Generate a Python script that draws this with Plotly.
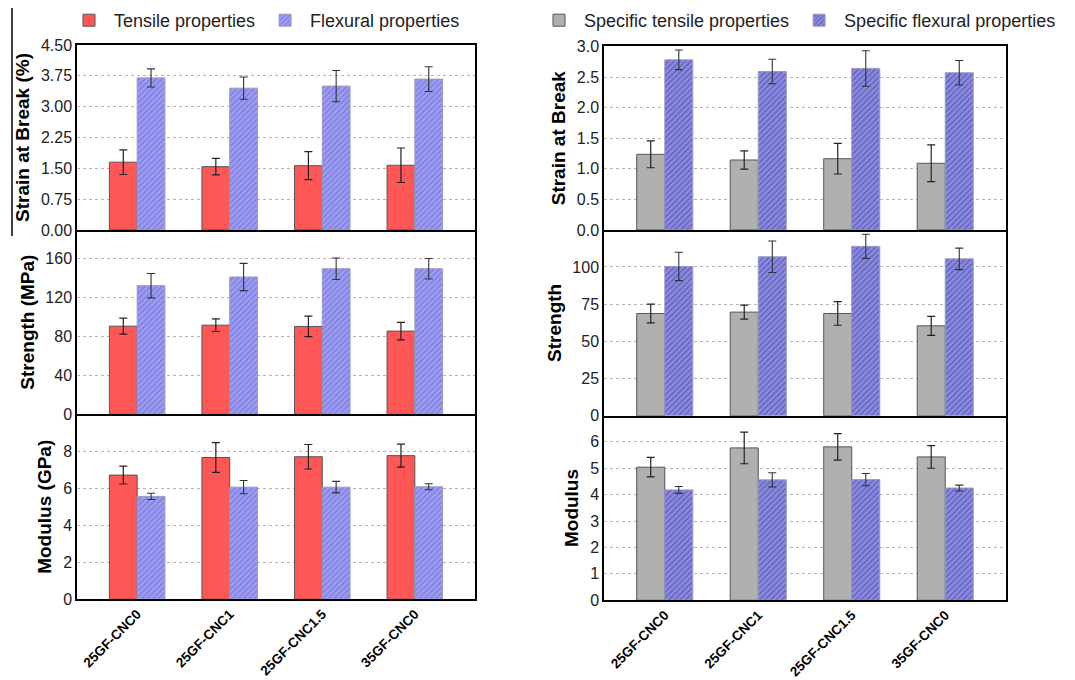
import plotly.graph_objects as go

# Sample groups
samples = ["25GF-CNC0", "25GF-CNC1", "25GF-CNC1.5", "35GF-CNC0"]

# Absolute properties (mean and standard deviation)
tensile_strain = [1.65, 1.54, 1.565, 1.575]
tensile_strain_sd = [0.30, 0.20, 0.34, 0.42]
flexural_strain = [3.70, 3.45, 3.50, 3.67]
flexural_strain_sd = [0.22, 0.27, 0.38, 0.30]

tensile_strength = [90.4, 91.4, 90.1, 85.3]
tensile_strength_sd = [8.2, 6.5, 10.5, 9.0]
flexural_strength = [131.9, 140.8, 149.3, 149.3]
flexural_strength_sd = [12.5, 14.0, 11.0, 10.5]

tensile_modulus = [6.70, 7.65, 7.69, 7.75]
tensile_modulus_sd = [0.48, 0.80, 0.66, 0.62]
flexural_modulus = [5.55, 6.05, 6.05, 6.07]
flexural_modulus_sd = [0.17, 0.36, 0.31, 0.16]

# Specific (density-normalised) properties
sp_tensile_strain = [1.237, 1.144, 1.165, 1.09]
sp_tensile_strain_sd = [0.22, 0.15, 0.25, 0.30]
sp_flexural_strain = [2.78, 2.59, 2.64, 2.57]
sp_flexural_strain_sd = [0.16, 0.20, 0.29, 0.20]

sp_tensile_strength = [68.7, 69.6, 68.7, 60.4]
sp_tensile_strength_sd = [6.3, 4.7, 7.9, 6.4]
sp_flexural_strength = [100.3, 106.8, 113.8, 105.4]
sp_flexural_strength_sd = [9.5, 10.6, 8.1, 7.2]

sp_tensile_modulus = [5.04, 5.77, 5.81, 5.43]
sp_tensile_modulus_sd = [0.37, 0.60, 0.50, 0.43]
sp_flexural_modulus = [4.18, 4.56, 4.57, 4.25]
sp_flexural_modulus_sd = [0.13, 0.27, 0.23, 0.11]

FONT = "Liberation Sans, Arial, sans-serif"
W, H = 1075, 680

RED = "#ff5656"
GREY = "#b0b0b0"
BLUE_L_BG = "#9c9cf2"
BLUE_L_FG = "#5858c4"
BLUE_R_BG = "#8a8ae0"
BLUE_R_FG = "#30308e"

fig = go.Figure()


def add_pair(ax, a_vals, a_sd, b_vals, b_sd, a_name, b_name, a_color,
             b_bg, b_fg, legend, show):
    xa = "x" if ax == 1 else f"x{ax}"
    ya = "y" if ax == 1 else f"y{ax}"
    fig.add_trace(go.Bar(
        x=samples, y=a_vals, name=a_name, xaxis=xa, yaxis=ya,
        marker=dict(color=a_color, line=dict(color="#555555", width=1)),
        error_y=dict(type="data", array=a_sd, color="#222222",
                     thickness=1.2, width=4),
        legend=legend, showlegend=show, offsetgroup="a",
    ))
    fig.add_trace(go.Bar(
        x=samples, y=b_vals, name=b_name, xaxis=xa, yaxis=ya,
        marker=dict(color=b_bg, line=dict(color="#9a9ac0", width=1),
                    pattern=dict(shape="/", fgcolor=b_fg, bgcolor=b_bg,
                                 size=4, solidity=0.3)),
        error_y=dict(type="data", array=b_sd, color="#333333",
                     thickness=1.1, width=4),
        legend=legend, showlegend=show, offsetgroup="b",
    ))


L, R = "legend", "legend2"
add_pair(1, tensile_strain, tensile_strain_sd, flexural_strain, flexural_strain_sd,
         "Tensile properties", "Flexural properties", RED, BLUE_L_BG, BLUE_L_FG, L, True)
add_pair(2, tensile_strength, tensile_strength_sd, flexural_strength, flexural_strength_sd,
         "Tensile properties", "Flexural properties", RED, BLUE_L_BG, BLUE_L_FG, L, False)
add_pair(3, tensile_modulus, tensile_modulus_sd, flexural_modulus, flexural_modulus_sd,
         "Tensile properties", "Flexural properties", RED, BLUE_L_BG, BLUE_L_FG, L, False)
add_pair(4, sp_tensile_strain, sp_tensile_strain_sd, sp_flexural_strain, sp_flexural_strain_sd,
         "Specific tensile properties", "Specific flexural properties", GREY, BLUE_R_BG, BLUE_R_FG, R, True)
add_pair(5, sp_tensile_strength, sp_tensile_strength_sd, sp_flexural_strength, sp_flexural_strength_sd,
         "Specific tensile properties", "Specific flexural properties", GREY, BLUE_R_BG, BLUE_R_FG, R, False)
add_pair(6, sp_tensile_modulus, sp_tensile_modulus_sd, sp_flexural_modulus, sp_flexural_modulus_sd,
         "Specific tensile properties", "Specific flexural properties", GREY, BLUE_R_BG, BLUE_R_FG, R, False)


def px_x(p):
    return p / W


def px_y(p):
    return 1 - p / H


# panel geometry (pixel edges of each plotting area)
left_x = [px_x(77), px_x(475)]
right_x = [px_x(604), px_x(1006)]
left_rows = [(45, 230), (230, 414.3), (414.3, 599.3)]
right_rows = [(46.4, 230), (230, 415.7), (415.7, 600.3)]

# axis ranges stop just short of the next panel's ticks so shared edges stay unlabelled
y_specs = {
    1: dict(title="Strain at Break (%)", range=[0, 4.5], dtick=0.75, fmt=".2f"),
    2: dict(title="Strength (MPa)", range=[0, 189], dtick=40, fmt="d"),
    3: dict(title="Modulus (GPa)", range=[0, 9.98], dtick=2, fmt="d"),
    4: dict(title="Strain at Break", range=[0, 3.0], dtick=0.5, fmt=".1f"),
    5: dict(title="Strength", range=[0, 124.8], dtick=25, fmt="d"),
    6: dict(title="Modulus", range=[0, 6.99], dtick=1, fmt="d"),
}

layout = {}
extra = 7
for i in range(1, 7):
    col_x = left_x if i <= 3 else right_x
    rows = left_rows if i <= 3 else right_rows
    top, bot = rows[(i - 1) % 3]
    top_row = (i % 3 == 1)
    bottom_row = (i % 3 == 0)
    xk = "xaxis" if i == 1 else f"xaxis{i}"
    yk = "yaxis" if i == 1 else f"yaxis{i}"
    ya = "y" if i == 1 else f"y{i}"
    xa = "x" if i == 1 else f"x{i}"
    ydom = [px_y(bot), px_y(top)]
    layout[xk] = dict(
        domain=col_x, anchor=ya, type="category", range=[-0.65, 3.65],
        showline=True, linecolor="black", linewidth=1.5, mirror=top_row,
        ticks="", showgrid=False, zeroline=False, automargin=False,
        showticklabels=bottom_row, tickangle=-45, ticklabelstandoff=0,
        tickfont=dict(family=FONT, size=13.5, color="black", weight="bold"),
    )
    s = y_specs[i]
    layout[yk] = dict(
        domain=ydom, anchor=xa, range=s["range"],
        tickmode="linear", tick0=0, dtick=s["dtick"], tickformat=s["fmt"],
        showline=True, linecolor="black", linewidth=1.5, mirror=True,
        ticks="",
        showgrid=True, gridcolor="#b4b4b4", griddash="dot", gridwidth=1,
        zeroline=False, automargin=False,
        tickfont=dict(family=FONT, size=16, color="#222222"),
        title=dict(text=s["title"], standoff=6,
                   font=dict(family=FONT, size=19, color="black", weight="bold")),
    )
    # tick-only axes on both frame edges, ticks facing into the panel
    for side, pos in (("right", col_x[0]), ("left", col_x[1])):
        layout[f"yaxis{extra}"] = dict(
            overlaying=ya, anchor="free", position=pos, side=side,
            domain=ydom, range=s["range"], tickmode="linear", tick0=0,
            dtick=s["dtick"], showticklabels=False, showline=False,
            showgrid=False, zeroline=False, automargin=False,
            ticks="outside", ticklen=7, tickwidth=1.5, tickcolor="black",
            minor=dict(ticks="outside", ticklen=4, tickwidth=1.2,
                       tickcolor="black", dtick=s["dtick"] / 5, showgrid=False),
        )
        extra += 1

fig.update_layout(**layout)

fig.update_layout(
    width=W, height=H,
    margin=dict(l=0, r=0, t=0, b=0, autoexpand=False),
    paper_bgcolor="white", plot_bgcolor="white",
    barmode="group", bargap=0.4, bargroupgap=0.0,
    font=dict(family=FONT, color="black"),
    legend=dict(orientation="h", x=px_x(64), y=px_y(2), xanchor="left", yanchor="top",
                font=dict(family=FONT, size=18, color="#222222"),
                itemwidth=40, bgcolor="rgba(0,0,0,0)", traceorder="normal"),
    legend2=dict(orientation="h", x=px_x(534), y=px_y(2), xanchor="left", yanchor="top",
                 font=dict(family=FONT, size=18, color="#222222"),
                 itemwidth=40, bgcolor="rgba(0,0,0,0)", traceorder="normal"),
    shapes=[dict(type="line", xref="paper", yref="paper",
                 x0=px_x(12), x1=px_x(12), y0=px_y(8), y1=px_y(236),
                 line=dict(color="black", width=1.5))],
)

fig.write_html("out.html")
